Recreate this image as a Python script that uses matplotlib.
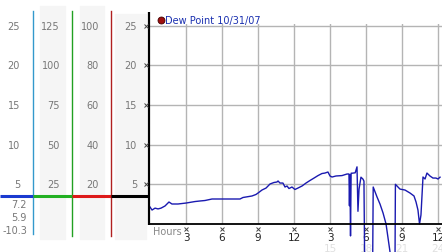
import matplotlib
matplotlib.use("Agg")
import matplotlib.pyplot as plt
from matplotlib.patches import Rectangle

# ---------------- data ----------------
hours = [0.0, 0.17, 0.42, 0.67, 0.92, 1.25, 1.58, 1.83, 2.33, 3.0, 3.75, 4.17, 4.58,
         5.17, 6.25, 7.5, 7.75, 8.5, 8.83, 9.0, 9.33, 9.67, 10.0, 10.33, 10.58, 10.67,
         10.83, 11.08, 11.25, 11.42, 11.58, 11.83, 12.08, 12.33, 12.67, 13.0, 13.33,
         13.67, 14.0, 14.33, 14.58, 14.83, 15.0, 15.17, 15.5, 16.0, 16.42, 16.58,
         16.62, 16.66, 16.71, 16.76, 16.85, 17.1, 17.25, 17.33, 17.42, 17.58, 17.75,
         17.83, 17.92, 18.55, 18.6, 18.92, 19.17, 19.42, 19.67, 20.0, 20.2, 20.42,
         20.45, 20.83, 21.25, 21.67, 22.0, 22.17, 22.33, 22.46, 22.58, 22.75, 22.92,
         23.08, 23.33, 23.58, 23.83, 24.0, 24.17]
dew = [2.14, 1.76, 2.0, 1.9, 2.0, 2.27, 2.77, 2.52, 2.52, 2.64, 2.83, 2.9, 2.96,
       3.15, 3.15, 3.15, 3.34, 3.53, 3.72, 3.9, 4.28, 4.53, 5.04, 5.23, 5.29, 5.42,
       5.16, 5.16, 4.66, 4.79, 4.47, 4.66, 4.35, 4.53, 4.79, 5.16, 5.48,
       5.79, 6.1, 6.36, 6.42, 6.55, 6.05, 5.92, 6.05, 6.1, 6.3, 6.3,
       2.3, 6.2, -1.5, 6.4, 6.4, 6.45, 7.2, 1.6, 4.4, 5.9, 5.65,
       5.4, -10.3, -6.0, 4.66, 3.4, 2.5, 1.39, 0.0, -3.5, -5.5, -4.0,
       5.0, 4.4, 4.28, 3.9, 3.53, 2.77, 1.76, 0.0, 1.13, 5.92, 5.67,
       6.42, 6.05, 5.79, 5.79, 5.67, 5.9]

series_label = "Dew Point 10/31/07"
x_ticks = [3, 6, 9, 12, 15, 18, 21, 24]
x_tick_labels = ["3", "6", "9", "12", "3", "6", "9", "12"]
faint_ticks = [15, 18, 21, 24]
faint_labels = ["15", "18", "21", "24"]
y_ticks = [5, 10, 15, 20, 25]
col1_labels = ["25", "20", "15", "10", "5"]
col2_labels = ["125", "100", "75", "50", "25"]
col3_labels = ["100", "80", "60", "40", "20"]
col4_labels = ["25", "20", "15", "10", "5"]
stat_labels = ["7.2", "5.9", "-10.3"]
marker_level = 3.5

# ---------------- figure ----------------
W, H = 442, 253
fig = plt.figure(figsize=(W / 100, H / 100), dpi=100)
fig.patch.set_facecolor("white")

Y0, PPU = 225.0, 200.0 / 25.2   # pixel of value 0, pixels per unit
def ypx(v):
    return Y0 - v * PPU

ax = fig.add_axes([150 / W, (H - 225) / H, (W - 150) / W, 200 / H])
ax.set_xlim(0, 24 * 292 / 288)
ax.set_ylim(0, 25.2)
for s in ax.spines.values():
    s.set_visible(False)
ax.set_facecolor("none")
for t in y_ticks:
    ax.axhline(t, color="#b4b4b4", lw=1.0, zorder=1)
for t in x_ticks:
    ax.axvline(t, color="#b4b4b4", lw=1.0, zorder=1)
ax.set_yticks([])
ax.set_xticks(x_ticks)
ax.set_xticklabels(x_tick_labels, fontsize=7.5, color="#222222")
ax.tick_params(axis="x", length=0, pad=6)
ax.plot(hours, dew, color="#1a1ab0", lw=1.0, clip_on=False, zorder=3)
# tiny tick marks
ax.plot(x_ticks, [-0.62] * len(x_ticks), ls="none", marker="x", ms=2.2,
        mew=0.7, color="#444444", clip_on=False)
for t, lab in zip(faint_ticks, faint_labels):
    ax.text(t, -3.0, lab, ha="center", va="center", fontsize=7.5,
            color="#e0e0e0", clip_on=False, zorder=0)

# overlay in pixel coordinates
ov = fig.add_axes([0, 0, 1, 1], zorder=5)
ov.set_xlim(0, W)
ov.set_ylim(H, 0)
ov.axis("off")
ov.patch.set_alpha(0)

# gray columns
for x0, x1, y0 in [(40, 65, 7), (80, 104, 7), (115, 146, 15)]:
    ov.add_patch(Rectangle((x0, y0), x1 - x0, 240 - y0, color="#f5f5f5", zorder=0))

# vertical colored lines
ov.plot([33, 33], [12, 235], color="#3399cc", lw=1.0)
ov.plot([72, 72], [12, 237], color="#22a022", lw=1.0)
ov.plot([111, 111], [12, 237], color="#b02020", lw=1.0)

# horizontal marker line
ym = ypx(marker_level)
ov.plot([0, 33], [ym, ym], color="#1a3ad0", lw=2.2, solid_capstyle="butt")
ov.plot([33, 72], [ym, ym], color="#22b022", lw=2.2, solid_capstyle="butt")
ov.plot([72, 111], [ym, ym], color="#dd1a1a", lw=2.2, solid_capstyle="butt")
ov.plot([111, 149], [ym, ym], color="#000000", lw=2.2, solid_capstyle="butt")

# black axes
ov.plot([149, 149], [13, 226], color="black", lw=1.6, solid_capstyle="butt")
ov.plot([149, W], [225, 225], color="black", lw=1.3, solid_capstyle="butt")
ov.plot([146] * len(y_ticks), [ypx(v) for v in y_ticks], ls="none", marker="x",
        ms=2.2, mew=0.7, color="#444444")

lab_kw = dict(fontsize=7, color="#777777", va="center", ha="right")
for v, a, b, c, d in zip(y_ticks[::-1], col1_labels, col2_labels, col3_labels, col4_labels):
    yy = ypx(v)
    ov.text(20, yy, a, **lab_kw)
    ov.text(60, yy, b, **lab_kw)
    ov.text(99, yy, c, **lab_kw)
    ov.text(137, yy, d, **lab_kw)
for yy, s in zip([205, 218, 231], stat_labels):
    ov.text(27, yy, s, **lab_kw)

ov.text(153, 232, "Hours", fontsize=7, color="#888888", va="center", ha="left")

# legend
ov.plot([161], [21], marker="o", ms=5, color="#a01010", mec="#400000", mew=0.6)
ov.text(165, 21, series_label, fontsize=7, color="#1a30b0", va="center", ha="left")

fig.savefig("out.png", dpi=100, facecolor="white")
